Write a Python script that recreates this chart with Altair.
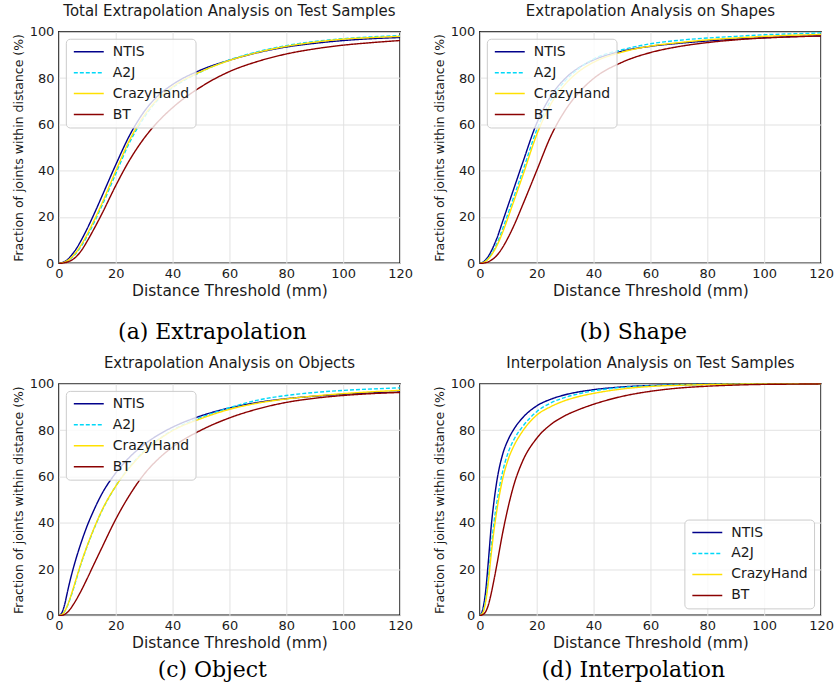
import altair as alt
import pandas as pd

# Distance thresholds (mm) at which each curve is sampled
X_MM = [0, 1, 2, 3, 4, 5, 6, 8, 10, 12, 15, 20, 25, 30, 35, 40, 50, 60, 70, 80, 90, 100, 110, 120]

METHODS = ["NTIS", "A2J", "CrazyHand", "BT"]
COLORS = ["#00008b", "#00d8f8", "#ffe000", "#8b0000"]
DASHES = [[1, 0], [4, 2], [1, 0], [1, 0]]

# (a) total extrapolation
NTIS_A = [0, 0.2, 0.7, 1.5, 2.8, 4.3, 6.0, 10.2, 15.0, 20.2, 28.5, 42.5, 55.5, 65.5, 72.5, 77.2, 83.5, 87.7, 91, 93.4, 95, 96.2, 97, 97.5]
A2J_A = [0, 0.1, 0.4, 1.0, 1.8, 2.9, 4.2, 7.6, 11.8, 16.6, 24.4, 38.6, 52.5, 63, 70.8, 75.8, 82.7, 87.8, 91.4, 94, 95.8, 97, 97.8, 98.3]
CRAZY_A = [0, 0.1, 0.5, 1.1, 2.0, 3.2, 4.6, 8.2, 12.6, 17.5, 25.4, 39.8, 53.5, 63.8, 71.2, 76.2, 82.8, 87.6, 91.1, 93.7, 95.5, 96.8, 97.5, 98]
BT_A = [0, 0, 0.2, 0.5, 1.0, 1.7, 2.7, 5.6, 9.6, 14.0, 21, 33.5, 44.8, 54, 61.3, 67.2, 76.2, 82.8, 87.2, 90.4, 92.6, 94.2, 95.3, 96.2]

# (b) shapes
NTIS_B = [0, 0.4, 1.4, 3.0, 5.2, 7.8, 10.8, 18, 25.2, 32.4, 43.2, 60.5, 72.3, 79.8, 84.6, 87.8, 91.6, 93.7, 95, 96, 96.8, 97.4, 97.9, 98.2]
A2J_B = [0, 0.3, 1.0, 2.2, 3.9, 6.0, 8.5, 14.8, 21.8, 28.8, 39.5, 57.5, 70.5, 78.8, 84.3, 88.2, 92.2, 94.8, 96.3, 97.3, 98.0, 98.7, 99.1, 99.5]
CRAZY_B = [0, 0.2, 0.8, 1.9, 3.4, 5.3, 7.6, 13.3, 20, 27, 37.5, 55.5, 68.8, 77.3, 83, 86.8, 91.2, 93.8, 95.3, 96.5, 97.3, 98, 98.5, 98.8]
BT_B = [0, 0, 0.2, 0.6, 1.3, 2.2, 3.4, 6.8, 11.2, 16.3, 25, 40, 55, 66, 74, 79.8, 86.8, 91, 93.6, 95.3, 96.5, 97.3, 97.8, 98.2]

# (c) objects
NTIS_C = [0, 1.0, 4.5, 10, 15.3, 20, 24.3, 32, 38.8, 44.6, 52.2, 61.5, 68.5, 73.8, 78, 81.3, 86.2, 89.6, 92, 93.6, 94.7, 95.5, 96.1, 96.5]
A2J_C = [0, 0.3, 1.6, 4.0, 7.3, 11, 15, 23, 30, 36.3, 44.8, 55.8, 64.3, 71, 76, 80, 85.5, 89.7, 93, 95, 96.3, 97.2, 97.8, 98.3]
CRAZY_C = [0, 0.3, 1.7, 4.2, 7.6, 11.4, 15.4, 23.3, 30.2, 36.5, 45, 55.8, 64, 70.6, 75.8, 79.8, 85, 89, 91.7, 93.5, 94.8, 95.8, 96.6, 97.2]
BT_C = [0, 0, 0.4, 1.3, 2.7, 4.5, 6.5, 11, 16, 21.2, 28.9, 41.5, 52.2, 61, 67.6, 72.7, 80, 85.3, 89.2, 92, 93.8, 95, 95.8, 96.3]

# (d) interpolation
NTIS_D = [0, 2.5, 10, 23.5, 38.5, 49.5, 58.2, 69.5, 76, 80.5, 85.3, 90.5, 93.4, 95.3, 96.6, 97.5, 98.7, 99.3, 99.6, 99.8, 99.9, 100, 100, 100]
A2J_D = [0, 1.3, 6.5, 16.5, 29.5, 40.5, 49, 62, 70.5, 76, 81.5, 88, 91.8, 94.2, 95.8, 97, 98.5, 99.2, 99.6, 99.8, 99.9, 100, 100, 100]
CRAZY_D = [0, 1.0, 5.5, 14.5, 26.5, 37, 45.5, 58.8, 67.5, 73.3, 79.5, 86.5, 90.2, 92.8, 94.6, 95.9, 97.8, 98.9, 99.4, 99.7, 99.9, 100, 100, 100]
BT_D = [0, 0.3, 1.5, 4.5, 9.5, 15.5, 22, 35.5, 47, 56.5, 66.5, 76.5, 82.5, 86.3, 89, 91.2, 94.6, 96.8, 98.2, 99, 99.5, 99.8, 99.9, 100]

SANS = "DejaVu Sans"
SERIF = "DejaVu Serif"
TEXT = "#1a1a1a"
# legend handle: a horizontal stroke running to the right of its small layout box
HANDLE = "M-1,0H5"


def panel(title, series, legend_orient):
    rows = []
    for method, values in zip(METHODS, series):
        for x, y in zip(X_MM, values):
            rows.append({"threshold": x, "fraction": y, "method": method})
    df = pd.DataFrame(rows)

    legend = alt.Legend(
        title=None,
        orient=legend_orient,
        offset=7,
        fillColor="rgba(255,255,255,0.8)",
        strokeColor="#cccccc",
        cornerRadius=4,
        padding=6,
        symbolType=HANDLE,
        symbolSize=100,
        symbolStrokeWidth=1.5,
        labelFont=SANS,
        labelFontSize=14,
        labelColor=TEXT,
        labelOffset=27,
        rowPadding=7,
    )

    return (
        alt.Chart(df)
        .mark_line(strokeWidth=1.4, interpolate="monotone")
        .encode(
            x=alt.X(
                "threshold:Q",
                scale=alt.Scale(domain=[0, 120], nice=False),
                axis=alt.Axis(values=[0, 20, 40, 60, 80, 100, 120], title="Distance Threshold (mm)"),
            ),
            y=alt.Y(
                "fraction:Q",
                scale=alt.Scale(domain=[0, 100], nice=False),
                axis=alt.Axis(values=[0, 20, 40, 60, 80, 100], title="Fraction of joints within distance (%)"),
            ),
            color=alt.Color("method:N", scale=alt.Scale(domain=METHODS, range=COLORS), legend=legend),
            strokeDash=alt.StrokeDash("method:N", scale=alt.Scale(domain=METHODS, range=DASHES), legend=legend),
        )
        .properties(
            width=342,
            height=232,
            title=alt.Title(title, font=SANS, fontSize=15, fontWeight="normal", color=TEXT, offset=7),
        )
    )


def captioned(chart, caption, offset):
    return alt.vconcat(
        chart,
        title=alt.Title(
            caption,
            orient="bottom",
            anchor="middle",
            frame="bounds",
            font=SERIF,
            fontSize=22,
            fontWeight="normal",
            color="#000000",
            offset=offset,
        ),
    ).resolve_scale(color="independent", strokeDash="independent").resolve_legend(
        color="independent", strokeDash="independent"
    )


pa = captioned(panel("Total Extrapolation Analysis on Test Samples", [NTIS_A, A2J_A, CRAZY_A, BT_A], "top-left"), "(a) Extrapolation", 23)
pb = captioned(panel("Extrapolation Analysis on Shapes", [NTIS_B, A2J_B, CRAZY_B, BT_B], "top-left"), "(b) Shape", 23)
pc = captioned(panel("Extrapolation Analysis on Objects", [NTIS_C, A2J_C, CRAZY_C, BT_C], "top-left"), "(c) Object", 9)
pd_ = captioned(panel("Interpolation Analysis on Test Samples", [NTIS_D, A2J_D, CRAZY_D, BT_D], "bottom-right"), "(d) Interpolation", 9)


def row(left, right):
    return alt.hconcat(left, right, spacing=18).resolve_scale(
        color="independent", strokeDash="independent"
    ).resolve_legend(color="independent", strokeDash="independent")


chart = (
    alt.vconcat(row(pa, pb), row(pc, pd_), spacing=11)
    .resolve_scale(color="independent", strokeDash="independent")
    .resolve_legend(color="independent", strokeDash="independent")
    .properties(padding={"left": 11, "top": 2, "right": 2, "bottom": 2}, background="white")
    .configure_view(stroke="#111111", strokeWidth=1.5)
    .configure_axis(
        grid=True,
        gridColor="#e2e2e2",
        gridWidth=1,
        domain=False,
        ticks=False,
        labelFlush=False,
        labelFont=SANS,
        labelFontSize=13,
        labelColor=TEXT,
        titleFont=SANS,
        titleFontWeight="normal",
        titleColor=TEXT,
    )
    .configure_axisX(labelPadding=4, titleFontSize=15.5, titlePadding=3)
    .configure_axisY(labelPadding=5, titleFontSize=12.5, titlePadding=4)
)

chart.save("out.html", embed_options={"renderer": "svg", "actions": False})
